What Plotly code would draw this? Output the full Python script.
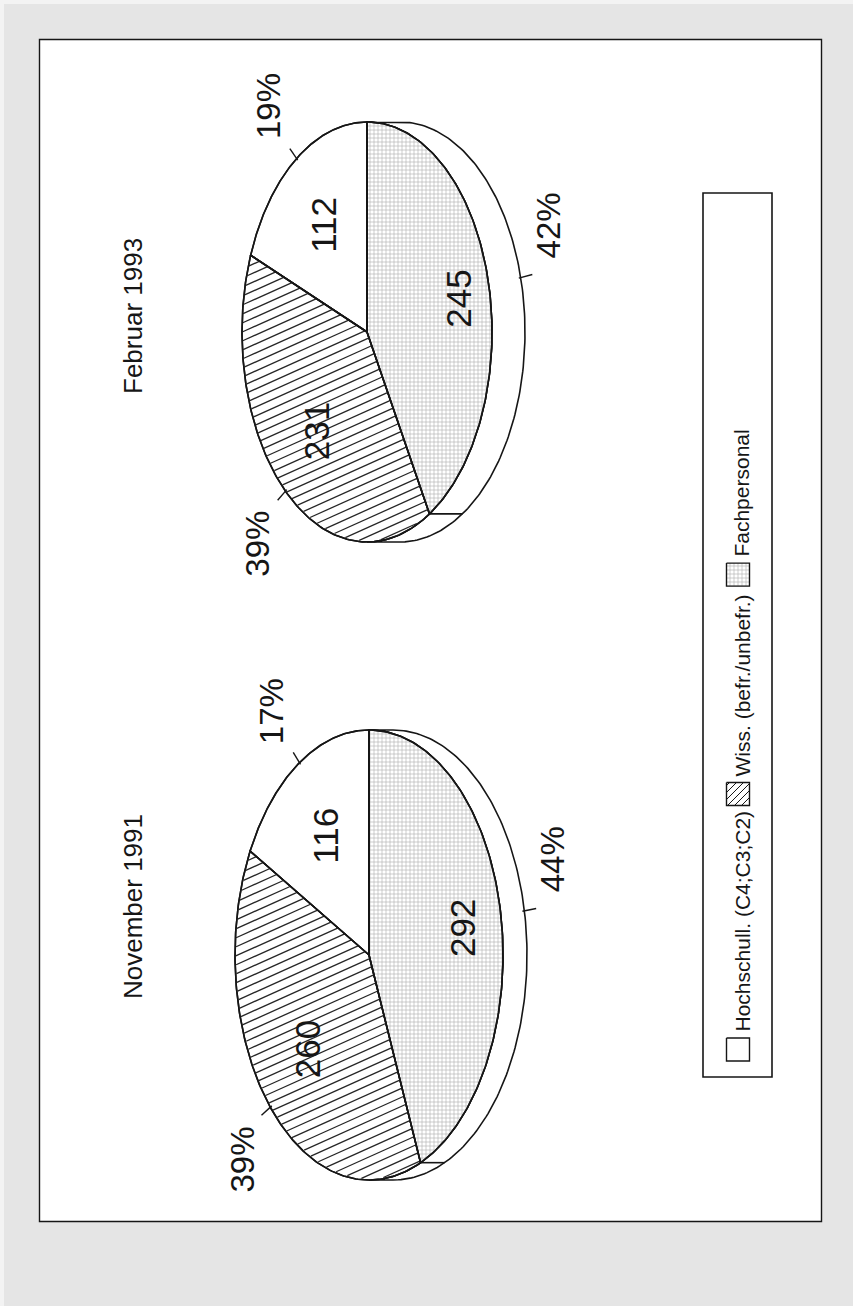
import numpy as np
import plotly.graph_objects as go

# ---------------------------------------------------------------- data
categories = ["Hochschull. (C4;C3;C2)", "Wiss. (befr./unbefr.)", "Fachpersonal"]
periods = ["November 1991", "Februar 1993"]
values_nov_1991 = [116, 260, 292]
values_feb_1993 = [112, 231, 245]

# ---------------------------------------------------------------- style
W, H = 853, 1306
FONT = "Liberation Sans, Arial, sans-serif"
INK = "#161616"
fill_kind = ["plain", "hatch", "dots"]

# The chart is printed a quarter turn counter-clockwise: each pie is a
# tilted disc (a = half width, b = half height, depth = rim thickness)
# in its own frame, then mapped onto the page.
geometry = [
    dict(cx=369, cy=955, a=225, b=134, depth=24, title_x=133, title_y=907),
    dict(cx=367, cy=332, a=210, b=125, depth=33, title_x=133, title_y=316),
]
series = [values_nov_1991, values_feb_1993]

# advance widths (1/1000 em) of the Arial-metric face, used to lay out
# the hand-built legend
ADV = {"H": 722, "o": 556, "c": 500, "h": 556, "s": 500, "u": 556, "l": 222,
       ".": 278, " ": 278, "(": 333, "C": 722, "4": 556, ";": 278, "3": 556,
       "2": 556, ")": 333, "W": 944, "i": 222, "b": 556, "e": 556, "f": 278,
       "r": 333, "/": 278, "n": 556, "F": 611, "a": 556, "p": 556}


def text_len(s, size):
    return sum(ADV.get(ch, 556) for ch in s) / 1000.0 * size


def to_page(g, X, Y):
    """pie frame (X right, Y up) -> page pixels (x right, y down)"""
    return g["cx"] - np.asarray(Y), g["cy"] - np.asarray(X)


def arc(g, t0, t1, n=160, drop=0.0):
    t = np.linspace(t0, t1, n)
    return to_page(g, g["a"] * np.cos(t), g["b"] * np.sin(t) - drop)


def sector_test(g, t0, t1):
    def inside(x, y):
        X = (g["cy"] - y) / g["a"]
        Y = (g["cx"] - x) / g["b"]
        t = np.mod(np.arctan2(Y, X), 2 * np.pi)
        return (np.hypot(X, Y) <= 0.995) & (t >= t0) & (t <= t1)
    return inside


def hatch(inside, x0, x1, y0, y1, slope=0.45, gap=9.0):
    """diagonal hatch lines (rising to the right) clipped to a convex region"""
    xs = np.linspace(x0, x1, 500)
    hx, hy = [], []
    c = np.floor((y0 + slope * x0) / gap) * gap
    while c <= y1 + slope * x1:
        ys = c - slope * xs
        idx = np.where(inside(xs, ys))[0]
        if idx.size > 1:
            hx += [xs[idx[0]], xs[idx[-1]], None]
            hy += [ys[idx[0]], ys[idx[-1]], None]
        c += gap
    return hx, hy


fig = go.Figure()


def add_poly(xs, ys, kind="plain", width=1.6):
    kw = dict(fillcolor="white")
    if kind == "dots":
        kw["fillpattern"] = dict(shape="+", size=4, solidity=0.28,
                                 fgcolor="#aaaaaa", bgcolor="white", fillmode="replace")
    fig.add_trace(go.Scatter(x=list(xs), y=list(ys), mode="lines", fill="toself",
                             line=dict(color=INK, width=width), hoverinfo="skip",
                             showlegend=False, **kw))


def add_lines(xs, ys, width=1.2, color=INK):
    fig.add_trace(go.Scatter(x=xs, y=ys, mode="lines", hoverinfo="skip",
                             line=dict(color=color, width=width), showlegend=False))


annotations = []


def label(x, y, text, size, anchor=("center", "middle")):
    annotations.append(dict(x=x, y=y, xref="x", yref="y", text=text, showarrow=False,
                             textangle=-90, xanchor=anchor[0], yanchor=anchor[1],
                             font=dict(family=FONT, size=size, color=INK)))


for g, vals, title in zip(geometry, series, periods):
    total = float(sum(vals))
    cuts = np.concatenate([[0.0], np.cumsum(vals) / total * 2 * np.pi])

    # rim of the disc (lower half in the pie frame)
    tx, ty = arc(g, np.pi, 2 * np.pi)
    bx, by = arc(g, 2 * np.pi, np.pi, drop=g["depth"])
    add_poly(np.r_[tx, bx, tx[:1]], np.r_[ty, by, ty[:1]])
    for t in cuts[1:-1]:
        if np.pi < t < 2 * np.pi:
            px, py = to_page(g, g["a"] * np.cos(t), g["b"] * np.sin(t))
            add_lines([px, px + g["depth"]], [py, py], width=1.6)

    # top face slices
    for k, (t0, t1) in enumerate(zip(cuts[:-1], cuts[1:])):
        ax, ay = arc(g, t0, t1)
        xs = np.r_[g["cx"], ax, g["cx"]]
        ys = np.r_[g["cy"], ay, g["cy"]]
        add_poly(xs, ys, fill_kind[k])
        if fill_kind[k] == "hatch":
            hx, hy = hatch(sector_test(g, t0, t1), xs.min(), xs.max(), ys.min(), ys.max())
            add_lines(hx, hy, width=1.3, color="#262626")
    # outline the face once more on top of the hatching
    for k, (t0, t1) in enumerate(zip(cuts[:-1], cuts[1:])):
        ax, ay = arc(g, t0, t1)
        add_lines(list(np.r_[g["cx"], ax, g["cx"]]), list(np.r_[g["cy"], ay, g["cy"]]), width=1.6)

    # value labels and percentage call-outs
    for k, v in enumerate(vals):
        tm = 0.5 * (cuts[k] + cuts[k + 1])
        c, s = np.cos(tm), np.sin(tm)
        sink = g["depth"] / 2 if s < 0 else 0.0
        vx, vy = to_page(g, 0.62 * g["a"] * c, 0.62 * g["b"] * s - sink)
        label(float(vx), float(vy), f"{v}", 35)

        X, Y = g["a"] * c, g["b"] * s - (g["depth"] if s < 0 else 0.0)
        n = np.hypot(c, s)
        x0, y0 = to_page(g, X - 2 * c / n, Y - 2 * s / n)
        x1, y1 = to_page(g, X + 12 * c / n, Y + 12 * s / n)
        add_lines([float(x0), float(x1)], [float(y0), float(y1)], width=1.4)
        lx, ly = to_page(g, X + np.sign(c) * 52, Y + np.sign(s) * 28)
        label(float(lx), float(ly), f"{round(100 * v / total)}%", 33)

    label(g["title_x"], g["title_y"], title, 26)

# ---------------------------------------------------------------- legend
legend_x = 738
legend_size = 21
icon = 23
cursor = 1061          # entries run upward from here
for k, name in enumerate(categories):
    x0, x1 = legend_x - icon / 2, legend_x + icon / 2
    y1, y0 = cursor, cursor - icon
    add_poly([x0, x1, x1, x0, x0], [y0, y0, y1, y1, y0], fill_kind[k], width=1.4)
    if fill_kind[k] == "hatch":
        box = lambda x, y, x0=x0, x1=x1, y0=y0, y1=y1: (x > x0) & (x < x1) & (y > y0) & (y < y1)
        hx, hy = hatch(box, x0, x1, y0, y1, slope=1.0, gap=7.0)
        add_lines(hx, hy, width=1.0)
    label(legend_x + 4, y0 - 4, name, legend_size, anchor=("center", "bottom"))
    cursor = y0 - 4 - text_len(name, legend_size) - 8

shapes = [
    dict(type="rect", xref="x", yref="y", x0=4, y0=4, x1=W + 2, y1=H + 2,
         fillcolor="#e5e5e5", line=dict(width=0), layer="below"),
    dict(type="rect", xref="x", yref="y", x0=39.5, y0=39.5, x1=821.5, y1=1221.5,
         fillcolor="white", line=dict(color=INK, width=1.4), layer="below"),
    dict(type="rect", xref="x", yref="y", x0=703, y0=193, x1=772, y1=1077,
         fillcolor="rgba(0,0,0,0)", line=dict(color=INK, width=1.6), layer="below"),
]

fig.update_layout(
    width=W, height=H, margin=dict(l=0, r=0, t=0, b=0),
    paper_bgcolor="#f3f3f3", plot_bgcolor="rgba(0,0,0,0)",
    xaxis=dict(range=[0, W], visible=False, fixedrange=True),
    yaxis=dict(range=[H, 0], visible=False, fixedrange=True),
    shapes=shapes, annotations=annotations, showlegend=False,
    hovermode=False,
)

fig.write_html("out.html")
